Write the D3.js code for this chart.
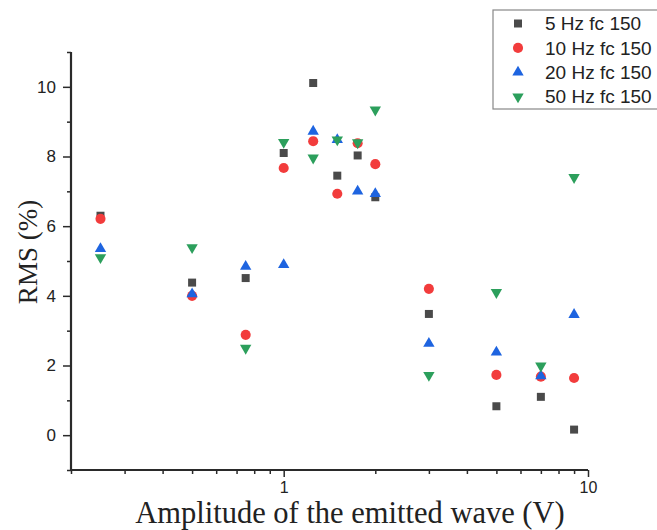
<!DOCTYPE html>
<html lang="en">
  <head>
    <meta charset="utf-8">
    <title>RMS vs amplitude</title>
    <style>
      body { margin: 0; background: #fff; }
    </style>
  </head>
  <body>
    <svg id="canvas"></svg>
    <script src="https://cdn.jsdelivr.net/npm/d3@7"></script>
    <script>

      const width = 657;
      const height = 530;

      // amplitudes (V)
      const amplitudes = [0.25, 0.5, 0.75, 1, 1.25, 1.5, 1.75, 2, 3, 5, 7, 9];

      // RMS (%) per series
      const rms5  = [6.30, 4.38, 4.51, 8.10, 10.11, 7.45, 8.03, 6.83, 3.48, 0.83, 1.10, 0.16];
      const rms10 = [6.21, 4.00, 2.88, 7.67, 8.44, 6.93, 8.38, 7.78, 4.20, 1.73, 1.68, 1.64];
      const rms20 = [5.35, 4.05, 4.84, 4.89, 8.72, 8.48, 7.00, 6.93, 2.63, 2.38, 1.70, 3.46];
      const rms50 = [5.10, 5.39, 2.50, 8.41, 7.96, 8.48, 8.40, 9.34, 1.72, 4.10, 1.99, 7.40];

      const seriesNames = ["5 Hz fc 150", "10 Hz fc 150", "20 Hz fc 150", "50 Hz fc 150"];
      const yTicks = [0, 2, 4, 6, 8, 10];
      const xTicks = [1, 10];

      const series = [
        { name: seriesNames[0], values: rms5,  color: "#4a4a4a", shape: d3.symbolSquare,   size: 64, rot: 0 },
        { name: seriesNames[1], values: rms10, color: "#f23c3c", shape: d3.symbolCircle,   size: 80, rot: 0 },
        { name: seriesNames[2], values: rms20, color: "#1e64e0", shape: d3.symbolTriangle, size: 56, rot: 0 },
        { name: seriesNames[3], values: rms50, color: "#2c9f5c", shape: d3.symbolTriangle, size: 56, rot: 180 }
      ];

      const margin = { top: 52, right: 69, bottom: 60, left: 71 };

      const svg = d3.select("#canvas")
        .attr("width", width)
        .attr("height", height)
        .attr("viewBox", [0, 0, width, height]);

      const x = d3.scaleLog()
        .domain([0.2, 10])
        .range([margin.left, width - margin.right]);

      const y = d3.scaleLinear()
        .domain([-1, 11])
        .range([height - margin.bottom, margin.top]);

      const axisColor = "#2a2a2a";
      const tickFont = "'Liberation Sans', Arial, sans-serif";
      const titleFont = "'Liberation Serif', 'Times New Roman', serif";

      // x axis, minor ticks first
      const xMinor = d3.range(2, 10).map(d => d / 10).concat(d3.range(2, 10));
      svg.append("g")
        .attr("transform", `translate(0,${height - margin.bottom})`)
        .call(d3.axisBottom(x).tickValues(xMinor).tickSize(4).tickFormat(""))
        .call(g => g.select(".domain").remove())
        .call(g => g.selectAll("line").attr("stroke", axisColor).attr("stroke-width", 1.5));

      const xAxis = svg.append("g")
        .attr("transform", `translate(0,${height - margin.bottom})`)
        .call(d3.axisBottom(x).tickValues(xTicks).tickSize(7).tickPadding(5).tickFormat(d3.format("d")))
        .call(g => g.select(".domain").attr("d", `M${margin.left},0H${width - margin.right}`));
      xAxis.selectAll("line").attr("stroke", axisColor).attr("stroke-width", 1.5);
      xAxis.select(".domain").attr("stroke", axisColor).attr("stroke-width", 2.2);
      xAxis.selectAll("text")
        .attr("font-family", tickFont)
        .attr("font-size", 16)
        .attr("fill", "#222");

      // y axis
      const yMinor = [-1, 1, 3, 5, 7, 9, 11];
      svg.append("g")
        .attr("transform", `translate(${margin.left},0)`)
        .call(d3.axisLeft(y).tickValues(yMinor).tickSize(4).tickFormat(""))
        .call(g => g.select(".domain").remove())
        .call(g => g.selectAll("line").attr("stroke", axisColor).attr("stroke-width", 1.5));

      const yAxis = svg.append("g")
        .attr("transform", `translate(${margin.left},0)`)
        .call(d3.axisLeft(y).tickValues(yTicks).tickSize(8).tickPadding(7))
        .call(g => g.select(".domain").attr("d", `M0,${height - margin.bottom}V${margin.top}`));
      yAxis.selectAll("line").attr("stroke", axisColor).attr("stroke-width", 1.5);
      yAxis.select(".domain").attr("stroke", axisColor).attr("stroke-width", 2.2);
      yAxis.selectAll("text")
        .attr("font-family", tickFont)
        .attr("font-size", 17)
        .attr("fill", "#222");

      // points
      series.forEach(s => {
        const sym = d3.symbol().type(s.shape).size(s.size);
        svg.append("g")
          .selectAll("path")
          .data(amplitudes.map((a, i) => [a, s.values[i]]))
          .join("path")
          .attr("d", sym)
          .attr("fill", s.color)
          .attr("transform", d => `translate(${x(d[0])},${y(d[1])}) rotate(${s.rot})`);
      });

      // axis titles
      svg.append("text")
        .attr("x", 350)
        .attr("y", 523)
        .attr("text-anchor", "middle")
        .attr("font-family", titleFont)
        .attr("font-size", 30.5)
        .attr("fill", "#222")
        .text("Amplitude of the emitted wave (V)");

      svg.append("text")
        .attr("transform", "translate(37,252) rotate(-90)")
        .attr("text-anchor", "middle")
        .attr("font-family", titleFont)
        .attr("font-size", 27)
        .attr("fill", "#222")
        .text("RMS (%)");

      // legend
      const legend = svg.append("g").attr("transform", "translate(493,10)");
      legend.append("rect")
        .attr("x", 0)
        .attr("y", 0)
        .attr("width", 175)
        .attr("height", 99)
        .attr("fill", "#fff")
        .attr("stroke", "#888")
        .attr("stroke-width", 1.2);

      series.forEach((s, i) => {
        const row = legend.append("g").attr("transform", `translate(0,${13.5 + i * 24.4})`);
        row.append("path")
          .attr("d", d3.symbol().type(s.shape).size(s.size)())
          .attr("fill", s.color)
          .attr("transform", `translate(25,0) rotate(${s.rot})`);
        row.append("text")
          .attr("x", 52)
          .attr("y", 0)
          .attr("dy", "0.35em")
          .attr("font-family", tickFont)
          .attr("font-size", 19)
          .attr("fill", "#222")
          .text(s.name);
      });

    </script>
  </body>
</html>
